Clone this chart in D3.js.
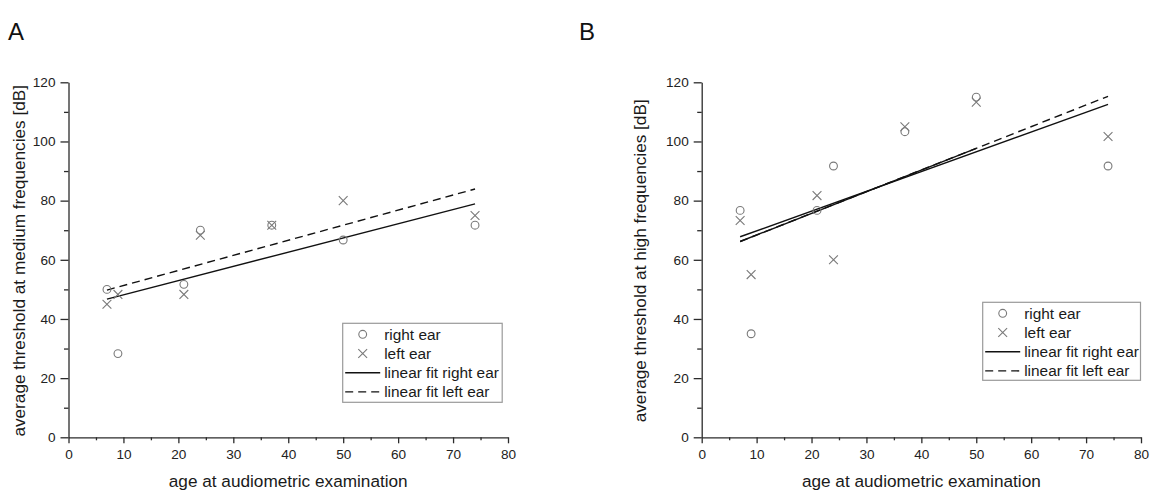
<!DOCTYPE html>
<html>
<head>
<meta charset="utf-8">
<script src="https://cdn.jsdelivr.net/npm/d3@7"></script>
<style>
  html, body { margin: 0; padding: 0; background: #fff; }
  svg { display: block; font-family: "Liberation Sans", Arial, sans-serif; }
  .axis path, .axis line { stroke: #2b2b2b; stroke-width: 1.3; }
  .axis text { fill: #222; font-size: 13.6px; font-family: "Liberation Sans", Arial, sans-serif; }
</style>
</head>
<body>
<svg id="chart" width="1153" height="492"></svg>
<script>
// Age of each patient at the audiometric examination (years)
const ages = [7, 9, 21, 24, 37, 50, 74];

// Average threshold at medium frequencies (dB)
const mediumRight = [50, 28.3, 51.7, 70, 71.7, 66.7, 71.7];
const mediumLeft  = [45, 48.3, 48.3, 68.3, 71.7, 80, 75];

// Average threshold at high frequencies (dB)
const highRight = [76.7, 35, 76.7, 91.7, 103.3, 115, 91.7];
const highLeft  = [73.3, 55, 81.7, 60, 105, 113.3, 101.7];

const xTicks = [0, 10, 20, 30, 40, 50, 60, 70, 80];
const xMinorTicks = [5, 15, 25, 35, 45, 55, 65, 75];
const yTicks = [0, 20, 40, 60, 80, 100, 120];
const yMinorTicks = [10, 30, 50, 70, 90, 110];

const legendLabels = ["right ear", "left ear", "linear fit right ear", "linear fit left ear"];
const panelLetters = ["A", "B"];
const yTitles = [
  "average threshold at medium frequencies [dB]",
  "average threshold at high frequencies [dB]"
];
const xTitle = "age at audiometric examination";

const svg = d3.select("#chart");
const markerColor = "#7a7a7a";

// Ordinary least-squares fit
function linearFit(xs, ys) {
  const mx = d3.mean(xs), my = d3.mean(ys);
  const sxy = d3.sum(xs, (x, i) => (x - mx) * (ys[i] - my));
  const sxx = d3.sum(xs, x => (x - mx) * (x - mx));
  const slope = sxy / sxx;
  return { slope, intercept: my - slope * mx };
}

function drawCircle(g, cx, cy) {
  g.append("circle").attr("cx", cx).attr("cy", cy).attr("r", 3.9)
    .attr("fill", "none").attr("stroke", markerColor).attr("stroke-width", 1.1);
}
function drawCross(g, cx, cy) {
  const s = 4.4;
  g.append("path")
    .attr("d", `M${cx - s},${cy - s}L${cx + s},${cy + s}M${cx - s},${cy + s}L${cx + s},${cy - s}`)
    .attr("stroke", markerColor).attr("stroke-width", 1.1).attr("fill", "none");
}

const panels = [
  { left: 68.5, right: 508, right_: mediumRight, left_: mediumLeft, titleX: 19,
    legend: { x: 342.7, y: 323.3, w: 159.5, h: 79 }, solidLeftTo: null },
  { left: 701.7, right: 1141, right_: highRight, left_: highLeft, titleX: 640,
    legend: { x: 982.7, y: 302.3, w: 157.8, h: 78 }, solidLeftTo: 50 }
];
const plotTop = 82.3, plotBottom = 437.3;

panels.forEach((p, idx) => {
  const x = d3.scaleLinear().domain([0, 80]).range([p.left, p.right]);
  const y = d3.scaleLinear().domain([0, 120]).range([plotBottom, plotTop]);
  const g = svg.append("g");

  // minor ticks
  g.append("g").attr("class", "axis")
    .attr("transform", `translate(0,${plotBottom})`)
    .call(d3.axisBottom(x).tickValues(xMinorTicks).tickSize(3).tickFormat(""))
    .call(a => a.select(".domain").remove());
  g.append("g").attr("class", "axis")
    .attr("transform", `translate(${p.left},0)`)
    .call(d3.axisLeft(y).tickValues(yMinorTicks).tickSize(4.5).tickFormat(""))
    .call(a => a.select(".domain").remove());

  // major axes
  g.append("g").attr("class", "axis")
    .attr("transform", `translate(0,${plotBottom})`)
    .call(d3.axisBottom(x).tickValues(xTicks).tickSize(6).tickSizeOuter(0).tickPadding(6.5));
  g.append("g").attr("class", "axis")
    .attr("transform", `translate(${p.left},0)`)
    .call(d3.axisLeft(y).tickValues(yTicks).tickSize(8).tickSizeOuter(0).tickPadding(5));

  // axis titles
  g.append("text")
    .attr("transform", `translate(${p.titleX},${(plotTop + plotBottom) / 2 + 1}) rotate(-90)`)
    .attr("text-anchor", "middle").attr("dominant-baseline", "central")
    .attr("font-size", 17.2).attr("fill", "#1a1a1a")
    .text(yTitles[idx]);
  g.append("text")
    .attr("x", (p.left + p.right) / 2).attr("y", 487)
    .attr("text-anchor", "middle")
    .attr("font-size", 17.2).attr("fill", "#1a1a1a")
    .text(xTitle);

  // panel letter
  svg.append("text")
    .attr("x", idx === 0 ? 8 : 579).attr("y", 40)
    .attr("font-size", 24).attr("fill", "#111")
    .text(panelLetters[idx]);

  // fit lines
  const ext = d3.extent(ages);
  const line = d3.line().x(d => x(d[0])).y(d => y(d[1]));
  const fitR = linearFit(ages, p.right_);
  const fitL = linearFit(ages, p.left_);
  const ptsR = ext.map(a => [a, fitR.intercept + fitR.slope * a]);
  const ptsL = ext.map(a => [a, fitL.intercept + fitL.slope * a]);

  g.append("path").attr("d", line(ptsR))
    .attr("stroke", "#111").attr("stroke-width", 1.4).attr("fill", "none");
  g.append("path").attr("d", line(ptsL))
    .attr("stroke", "#111").attr("stroke-width", 1.4).attr("fill", "none")
    .attr("stroke-dasharray", "8,5");
  if (p.solidLeftTo !== null) {
    const seg = [ext[0], p.solidLeftTo].map(a => [a, fitL.intercept + fitL.slope * a]);
    g.append("path").attr("d", line(seg))
      .attr("stroke", "#111").attr("stroke-width", 1.4).attr("fill", "none");
  }

  // data markers
  ages.forEach((a, i) => drawCircle(g, x(a), y(p.right_[i])));
  ages.forEach((a, i) => drawCross(g, x(a), y(p.left_[i])));

  // legend
  const L = p.legend;
  const lg = g.append("g");
  lg.append("rect").attr("x", L.x).attr("y", L.y).attr("width", L.w).attr("height", L.h)
    .attr("fill", "#fff").attr("stroke", "#9a9a9a").attr("stroke-width", 1.2);
  const rowH = 19.2, firstRow = L.y + 11;
  legendLabels.forEach((lab, i) => {
    const cy = firstRow + i * rowH;
    const sx = L.x + 20;
    if (i === 0) drawCircle(lg, sx, cy);
    else if (i === 1) drawCross(lg, sx, cy);
    else {
      lg.append("line").attr("x1", L.x + 2.5).attr("x2", L.x + 37.5).attr("y1", cy).attr("y2", cy)
        .attr("stroke", "#111").attr("stroke-width", 1.4)
        .attr("stroke-dasharray", i === 3 ? "8,5" : null);
    }
    lg.append("text").attr("x", L.x + 41.5).attr("y", cy)
      .attr("dominant-baseline", "central")
      .attr("font-size", 15.4).attr("fill", "#1a1a1a")
      .text(lab);
  });
});
</script>
</body>
</html>
